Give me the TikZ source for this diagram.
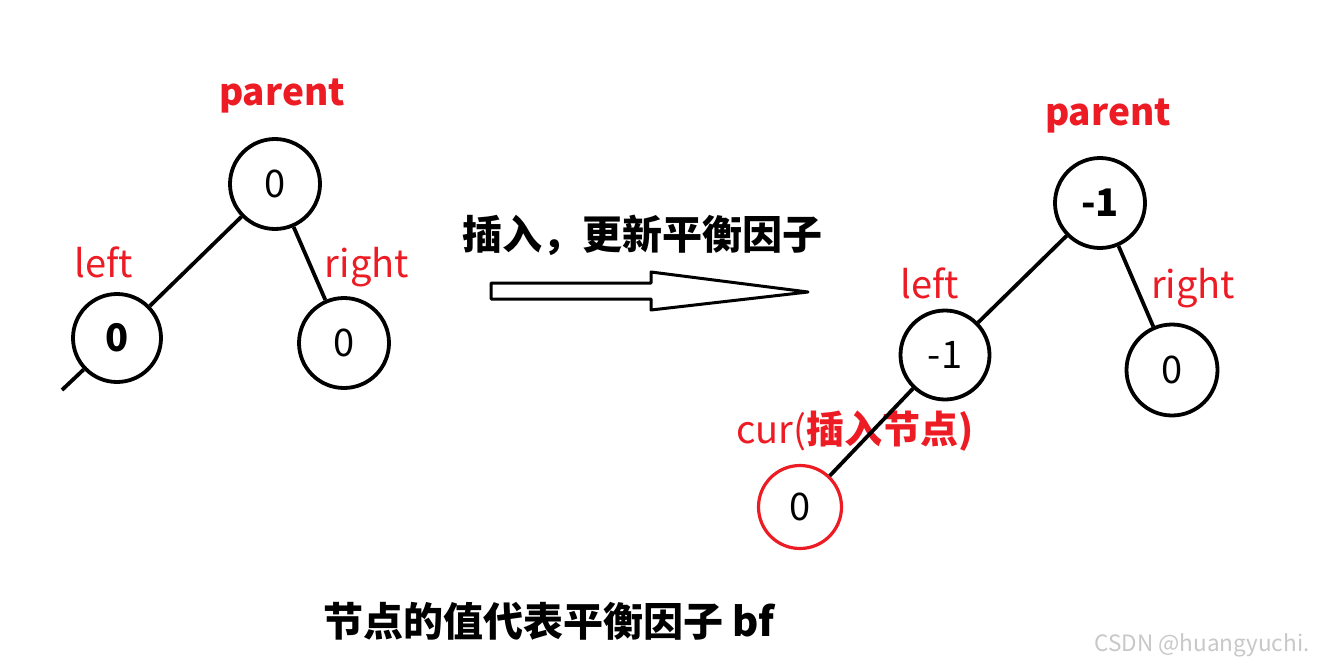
\documentclass[tikz,border=0pt]{standalone}
\usepackage{fontspec}
\setmainfont{Noto Sans CJK SC}
\definecolor{cred}{RGB}{237,28,36}
\definecolor{wm}{RGB}{200,200,200}
\begin{document}
\begin{tikzpicture}[x=1pt,y=-1pt,
  tnode/.style={circle,draw=black,line width=3.8pt,inner sep=0pt,font=\fontsize{38}{40}\selectfont},
  lbl/.style={text=cred,font=\fontsize{38}{42}\selectfont,inner sep=0pt},
  edge/.style={line width=3.8pt,black}]
\useasboundingbox[fill=white] (0,0) rectangle (1320,669);
% left tree
\node[tnode,minimum size=90pt] (p1) at (275,184) {0};
\node[tnode,minimum size=88pt,font=\fontsize{38}{40}\selectfont\bfseries] (l1) at (117,338) {0};
\node[tnode,minimum size=90pt] (r1) at (344,343) {0};
\coordinate (c1) at (62,390);
\node[lbl,font=\fontsize{37}{40}\selectfont\bfseries] (pl1) at (282,96) {parent};
\node[lbl] (ll1) at (104,262) {left};
\node[lbl] (rl1) at (367,267) {right};
\draw[edge] (p1) -- (l1);
\draw[edge] (p1) -- (r1);
\draw[edge] (l1) -- (c1);
% arrow
\node[font=\fontsize{40}{44}\selectfont\bfseries,inner sep=0pt] (t1) at (642,235) {插入，更新平衡因子};
\draw[line width=3pt,line join=round] (491,283) -- (651,283) -- (651,272) -- (808,292) -- (651,310) -- (651,299) -- (491,299) -- cycle;
% right tree
\node[tnode,minimum size=90pt,font=\fontsize{38}{40}\selectfont\bfseries] (p2) at (1100,203) {-1};
\node[tnode,minimum size=89pt] (l2) at (945,355) {-1};
\node[tnode,minimum size=91pt] (r2) at (1172,370) {0};
\node[tnode,draw=cred,line width=3.2pt,minimum size=83pt] (c2) at (800,507) {0};
\node[lbl,font=\fontsize{37}{40}\selectfont\bfseries] (pl2) at (1108,116) {parent};
\node[lbl] (ll2) at (930,283) {left};
\node[lbl] (rl2) at (1193,288) {right};
\node[lbl] (cl2) at (855,431) {cur(\textbf{插入节点)}};
\draw[edge] (p2) -- (l2);
\draw[edge] (p2) -- (r2);
\draw[edge] (l2) -- (c2);
% caption
\node[font=\fontsize{40}{44}\selectfont\bfseries,inner sep=0pt] (cap) at (549,621) {节点的值代表平衡因子 bf};
\node[text=wm,font=\fontsize{22.5}{25}\selectfont,inner sep=0pt] (wmk) at (1202,645) {CSDN @huangyuchi.};
\end{tikzpicture}
\end{document}
